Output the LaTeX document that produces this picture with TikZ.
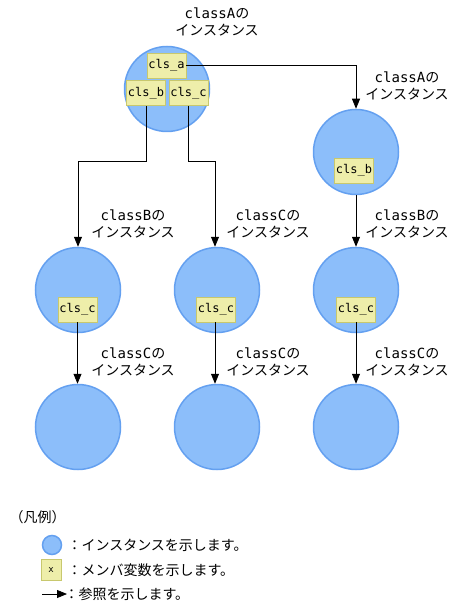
\documentclass[tikz,border=0pt]{standalone}
\usepackage{fontspec}
\setmainfont{Noto Sans CJK JP}
\newfontfamily\latfont{DejaVu Sans Mono}
\usetikzlibrary{arrows.meta}

\definecolor{instfill}{RGB}{140,190,250}
\definecolor{instline}{RGB}{100,160,240}
\definecolor{memfill}{RGB}{238,238,170}
\definecolor{memline}{RGB}{200,200,110}

\newcommand{\instcap}[1]{{\latfont #1}の\\インスタンス}

\begin{document}
\begin{tikzpicture}[x=1pt, y=-1pt,
    inst/.style={circle, draw=instline, fill=instfill, line width=1.5pt, minimum size=85pt, inner sep=0pt},
    mem/.style={draw=memline, fill=memfill, line width=0.8pt, minimum width=39pt, minimum height=25pt, inner sep=0pt, font=\latfont\fontsize{12}{14}\selectfont},
    lbl/.style={align=center, font=\fontsize{14}{17}\selectfont},
    ref/.style={-{Triangle[length=10pt,width=8pt]}, line width=0.8pt}]

    % page frame
    \useasboundingbox (0,0) rectangle (455,612);

    % instances
    \node[inst] (instA)  at (167,89)  {};
    \node[inst] (instA2) at (356,152) {};
    \node[inst] (instB)  at (78,290)  {};
    \node[inst] (instC1) at (217,290) {};
    \node[inst] (instB2) at (356,290) {};
    \node[inst] (instC2) at (78,427)  {};
    \node[inst] (instC3) at (217,427) {};
    \node[inst] (instC4) at (356,427) {};

    % member variables
    \node[mem] (aA)  at (166.5,65.5) {cls\_a};
    \node[mem] (bA)  at (146,93)     {cls\_b};
    \node[mem] (cA)  at (188.5,93)   {cls\_c};
    \node[mem] (bA2) at (354,170.5)  {cls\_b};
    \node[mem] (cB)  at (77.5,309.5) {cls\_c};
    \node[mem] (cC1) at (216,309.5)  {cls\_c};
    \node[mem] (cB2) at (356,309.5)  {cls\_c};

    % references
    \draw[ref] (aA.east) -| (instA2.north);
    \draw[ref] (bA.south) -- ++(0,56) -| (instB.north);
    \draw[ref] (cA.south) -- ++(0,56) -| ([xshift=-2pt]instC1.north);
    \draw[ref] (instA2.south) -- (instB2.north);
    \draw[ref] (cB.south) -- (cB.south |- instC2.north);
    \draw[ref] ([xshift=-1pt]cC1.south) -- ([xshift=-2pt]instC3.north);
    \draw[ref] (cB2.south) -- (instC4.north);

    % captions
    \node[lbl] (capA)  at (217,22)  {\instcap{classA}};
    \node[lbl] (capA2) at (407,86)  {\instcap{classA}};
    \node[lbl] (capB)  at (133,224) {\instcap{classB}};
    \node[lbl] (capC1) at (268,224) {\instcap{classC}};
    \node[lbl] (capB2) at (407,224) {\instcap{classB}};
    \node[lbl] (capC2) at (133,362) {\instcap{classC}};
    \node[lbl] (capC3) at (268,362) {\instcap{classC}};
    \node[lbl] (capC4) at (407,362) {\instcap{classC}};

    % legend
    \node[lbl, anchor=west] (lgTitle) at (6,517) {（凡例）};
    \node[inst, minimum size=19pt] (lgInst) at (52,545) {};
    \node[mem, minimum width=20pt, minimum height=21pt, font=\latfont\fontsize{9}{10}\selectfont] (lgMem) at (51,570) {x};
    \coordinate (lgFrom) at (42,594);
    \coordinate (lgTo) at (67,594);
    \draw[ref] (lgFrom) -- (lgTo);
    \node[lbl, anchor=west] (lgTxt1) at (64,545) {：インスタンスを示します。};
    \node[lbl, anchor=west] (lgTxt2) at (64,570) {：メンバ変数を示します。};
    \node[lbl, anchor=west] (lgTxt3) at (61,594) {：参照を示します。};

\end{tikzpicture}
\end{document}
